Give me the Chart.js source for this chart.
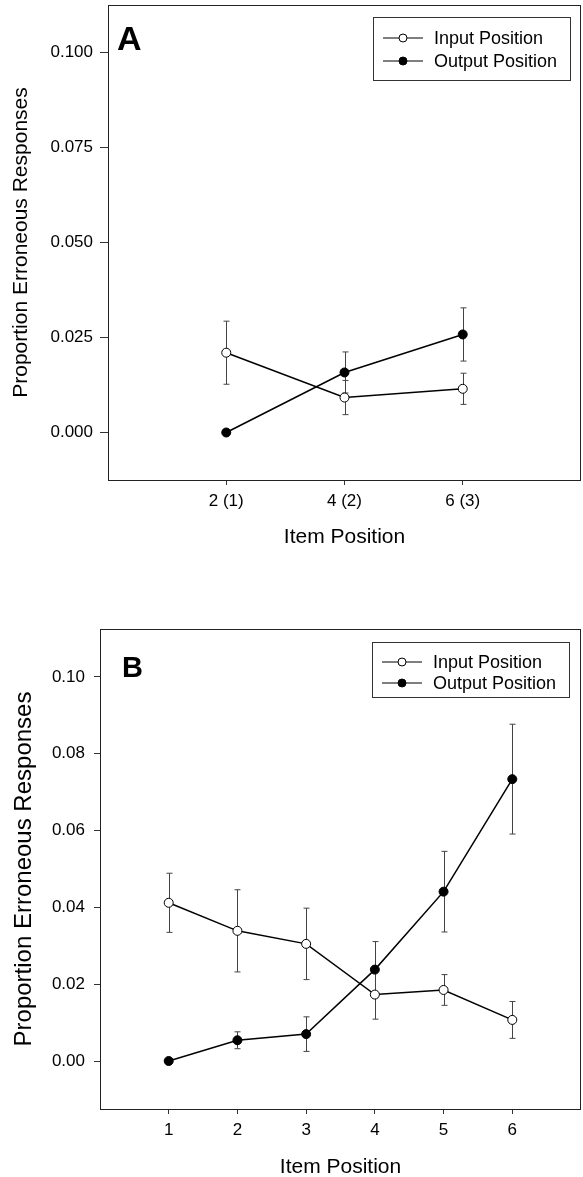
<!DOCTYPE html>
<html>
<head>
<meta charset="utf-8">
<script src="https://cdn.jsdelivr.net/npm/chart.js@4.4.1/dist/chart.umd.min.js"></script>
<style>
  body { margin: 0; background: #fff; overflow: hidden; }
  #wrap { position: relative; width: 583px; height: 1177px; }
  canvas { position: absolute; left: 0; }
</style>
</head>
<body>
<div id="wrap">
  <canvas id="chartA" width="583" height="560" style="top:0px"></canvas>
  <canvas id="chartB" width="583" height="620" style="top:560px"></canvas>
</div>
<script>
// panel A data (x = 1,2,3 -> item 2,4,6 / output 1,2,3)
var xPosA = [1, 2, 3];
var itemLabelsA = ['2 (1)', '4 (2)', '6 (3)'];
var inputMeanA = [0.0210, 0.0092, 0.0115];
var inputErrA = [0.0083, 0.0045, 0.0041];
var outputMeanA = [0.0000, 0.0158, 0.0258];
var outputErrA = [0.0000, 0.0054, 0.0070];
var yTicksA = [0, 0.025, 0.05, 0.075, 0.1];

// panel B data
var xPosB = [1, 2, 3, 4, 5, 6];
var itemLabelsB = ['1', '2', '3', '4', '5', '6'];
var inputMeanB = [0.0412, 0.0339, 0.0305, 0.0173, 0.0185, 0.0107];
var inputErrB = [0.0077, 0.0107, 0.0093, 0.0064, 0.0040, 0.0048];
var outputMeanB = [0.0000, 0.0054, 0.0070, 0.0238, 0.0441, 0.0734];
var outputErrB = [0.0000, 0.0022, 0.0045, 0.0073, 0.0105, 0.0143];
var yTicksB = [0, 0.02, 0.04, 0.06, 0.08, 0.1];

var FONT = "'Liberation Sans', Arial, sans-serif";

function toPoints(xs, ys) {
	return xs.map(function(x, i){ return {x: x, y: ys[i]}; });
}

//error bars drawn under the points
var errorBars = {
	id: 'errorBars',
	beforeDatasetsDraw: function(chart) {
		var ctx = chart.ctx;
		var xs = chart.scales.x, ys = chart.scales.y;
		ctx.save();
		ctx.strokeStyle = '#444';
		ctx.lineWidth = 1;
		chart.data.datasets.forEach(function(ds) {
			ds.data.forEach(function(p, i) {
				var e = ds.errors[i];
				if (!e) return;
				var px = Math.round(xs.getPixelForValue(p.x)) + 0.5;
				var top = ys.getPixelForValue(p.y + e);
				var bot = ys.getPixelForValue(p.y - e);
				ctx.beginPath();
				ctx.moveTo(px, top); ctx.lineTo(px, bot);
				ctx.moveTo(px - 3, top); ctx.lineTo(px + 3, top);
				ctx.moveTo(px - 3, bot); ctx.lineTo(px + 3, bot);
				ctx.stroke();
			});
		});
		ctx.restore();
	}
};

//frame, panel letter and boxed legend
var decor = {
	id: 'decor',
	afterDraw: function(chart) {
		var ctx = chart.ctx;
		var a = chart.chartArea;
		var o = chart.options.plugins.decor;
		ctx.save();
		ctx.strokeStyle = '#222';
		ctx.lineWidth = 1;
		ctx.strokeRect(Math.round(a.left) + 0.5, Math.round(a.top) + 0.5, Math.round(a.right - a.left) - 1, Math.round(a.bottom - a.top));

		ctx.fillStyle = '#000';
		ctx.font = 'bold ' + o.letterSize + 'px ' + FONT;
		ctx.textBaseline = 'alphabetic';
		ctx.fillText(o.letter, o.letterX, o.letterY);

		var lb = o.legendBox;
		ctx.strokeStyle = '#333';
		ctx.strokeRect(lb.x + 0.5, lb.y + 0.5, lb.w, lb.h);
		ctx.font = '18px ' + FONT;
		ctx.textBaseline = 'middle';
		chart.data.datasets.forEach(function(ds, i) {
			var y = lb.rowY[i];
			ctx.strokeStyle = '#000';
			ctx.lineWidth = 1.2;
			ctx.beginPath();
			ctx.moveTo(lb.x + 10, y); ctx.lineTo(lb.x + 50, y);
			ctx.stroke();
			ctx.beginPath();
			ctx.arc(lb.x + 30, y, 4, 0, Math.PI * 2);
			ctx.fillStyle = ds.pointBackgroundColor;
			ctx.fill();
			ctx.lineWidth = 1;
			ctx.stroke();
			ctx.fillStyle = '#000';
			ctx.fillText(ds.label, lb.x + 61, y + 1);
		});
		ctx.restore();
	}
};

function makeChart(id, cfg) {
	return new Chart(document.getElementById(id), {
		type: 'line',
		data: {
			datasets: [
				{
					label: 'Input Position',
					data: toPoints(cfg.xPos, cfg.inputMean),
					errors: cfg.inputErr,
					borderColor: '#000',
					borderWidth: 1.5,
					pointRadius: 4.5,
					pointBorderWidth: 1,
					pointBackgroundColor: '#fff',
					pointBorderColor: '#000'
				},
				{
					label: 'Output Position',
					data: toPoints(cfg.xPos, cfg.outputMean),
					errors: cfg.outputErr,
					borderColor: '#000',
					borderWidth: 1.5,
					pointRadius: 4.5,
					pointBorderWidth: 1,
					pointBackgroundColor: '#000',
					pointBorderColor: '#000'
				}
			]
		},
		options: {
			responsive: false,
			animation: false,
			layout: { autoPadding: false, padding: { top: cfg.padTop, right: 2, left: 0, bottom: 0 } },
			plugins: {
				legend: { display: false },
				tooltip: { enabled: false },
				decor: cfg.decor
			},
			scales: {
				x: {
					type: 'linear',
					min: 0,
					max: cfg.xMax,
					afterBuildTicks: function(s) { s.ticks = cfg.xPos.map(function(v){ return {value: v}; }); },
					afterFit: function(s) {
						s.height = cfg.xHeight;
						s.paddingLeft = 0; s.paddingRight = 0;
					},
					border: { display: false },
					grid: { drawOnChartArea: false, drawTicks: true, tickLength: 5, color: '#333' },
					ticks: {
						color: '#000',
						padding: 6,
						font: { family: FONT, size: 17 },
						callback: function(v) { return cfg.itemLabels[cfg.xPos.indexOf(v)]; }
					},
					title: {
						display: true,
						text: 'Item Position',
						color: '#000',
						font: { family: FONT, size: 21 },
						padding: { top: 0, bottom: cfg.xTitlePad }
					}
				},
				y: {
					min: -0.0125,
					max: 0.1125,
					afterBuildTicks: function(s) { s.ticks = cfg.yTicks.map(function(v){ return {value: v}; }); },
					afterFit: function(s) {
						s.width = cfg.yWidth;
						s.paddingTop = 0; s.paddingBottom = 0;
					},
					border: { display: false },
					grid: { drawOnChartArea: false, drawTicks: true, tickLength: cfg.yTickLen, color: '#333' },
					ticks: {
						color: '#000',
						padding: cfg.yTickPad,
						font: { family: FONT, size: 17 },
						callback: function(v) { return v.toFixed(cfg.decimals); }
					},
					title: {
						display: true,
						text: 'Proportion Erroneous Responses',
						color: '#000',
						font: { family: FONT, size: cfg.yTitleSize },
						padding: { top: cfg.yTitlePad, bottom: 0 }
					}
				}
			}
		},
		plugins: [errorBars, decor]
	});
}

makeChart('chartA', {
	xPos: xPosA, itemLabels: itemLabelsA, xMax: 4,
	inputMean: inputMeanA, inputErr: inputErrA,
	outputMean: outputMeanA, outputErr: outputErrA,
	yTicks: yTicksA, decimals: 3,
	padTop: 5, xHeight: 80, xTitlePad: 10,
	yWidth: 108, yTickLen: 8, yTickPad: 7, yTitleSize: 21, yTitlePad: 9,
	decor: { letter: 'A', letterSize: 34, letterX: 117, letterY: 50,
		legendBox: { x: 373, y: 17, w: 197, h: 63, rowY: [38, 61] } }
});

makeChart('chartB', {
	xPos: xPosB, itemLabels: itemLabelsB, xMax: 7,
	inputMean: inputMeanB, inputErr: inputErrB,
	outputMean: outputMeanB, outputErr: outputErrB,
	yTicks: yTicksB, decimals: 2,
	padTop: 69, xHeight: 71, xTitlePad: 0,
	yWidth: 100, yTickLen: 6, yTickPad: 9, yTitleSize: 24, yTitlePad: 10,
	decor: { letter: 'B', letterSize: 29, letterX: 122, letterY: 117,
		legendBox: { x: 372, y: 82, w: 197, h: 55, rowY: [102, 123] } }
});
</script>
</body>
</html>
